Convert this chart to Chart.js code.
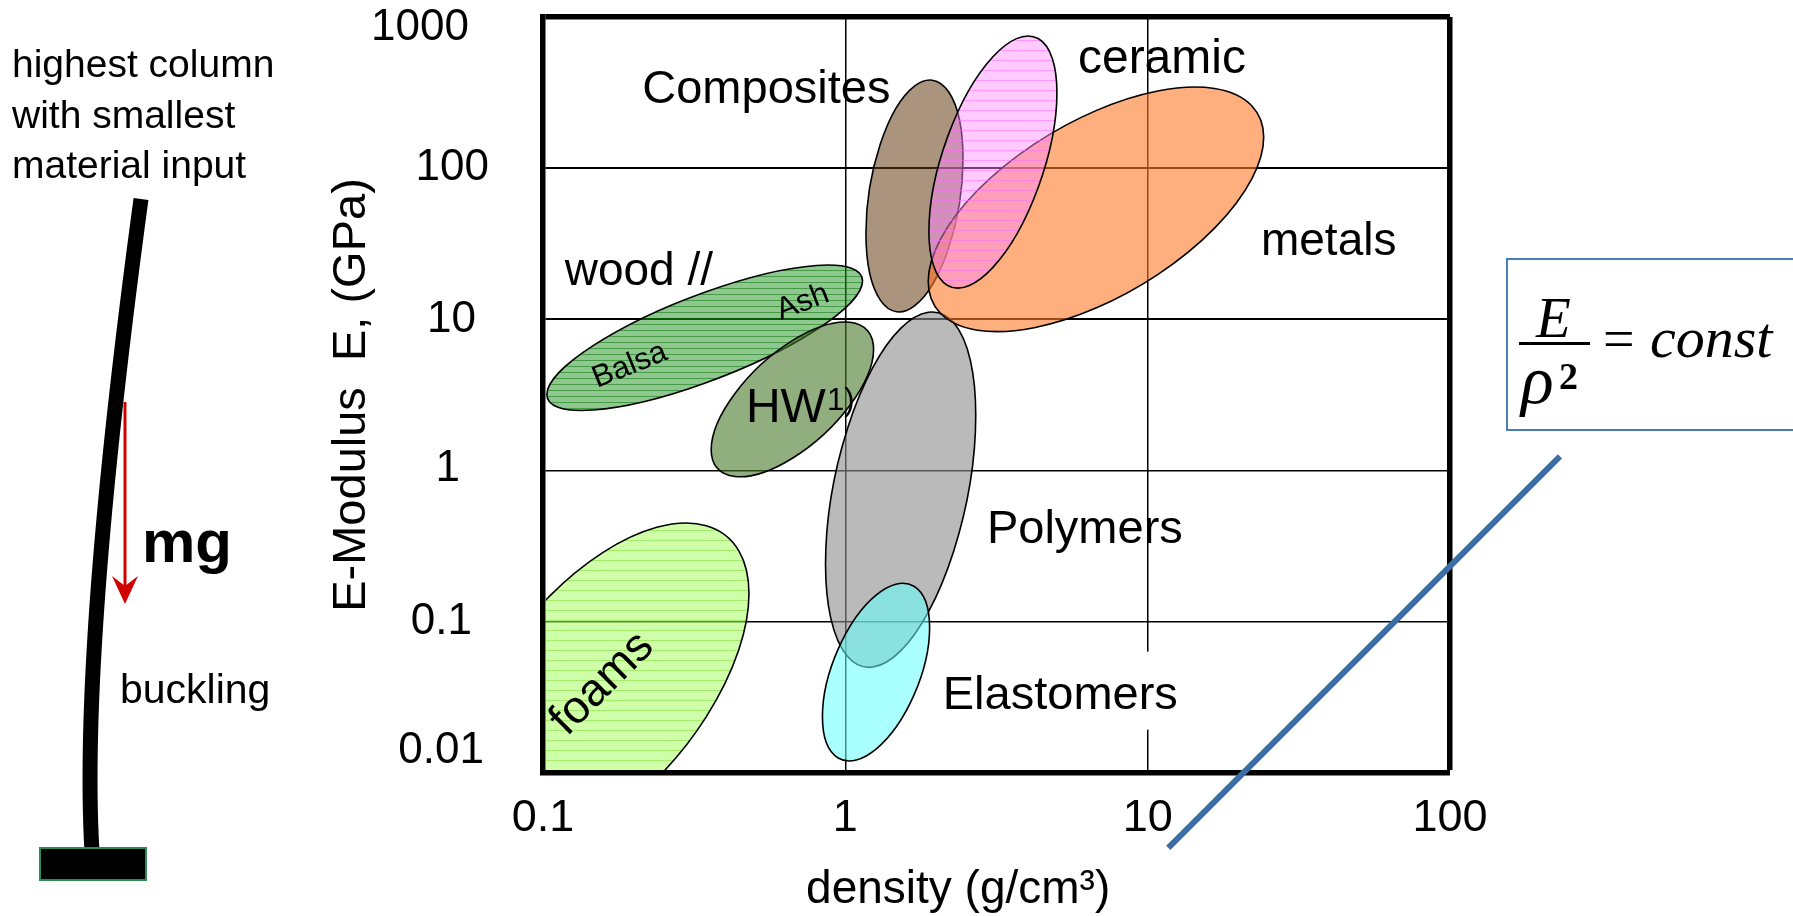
<!DOCTYPE html>
<html>
<head>
<meta charset="utf-8">
<script src="https://cdn.jsdelivr.net/npm/chart.js@4.4.0/dist/chart.umd.min.js"></script>
<style>
  html, body { margin: 0; padding: 0; background: #fff; }
  canvas { display: block; }
</style>
</head>
<body>
<canvas id="ashby" width="1793" height="916"></canvas>
<script>
// material classes: density (g/cm3) and E-modulus (GPa) ranges
var materials  = ['foams', 'wood //', 'HW', 'Polymers', 'Elastomers', 'Composites', 'metals', 'ceramic'];
var densityMin = [0.052, 0.103, 0.36, 0.86, 0.84, 1.17, 1.88, 1.89];
var densityMax = [0.48, 1.14, 1.24, 2.70, 1.90, 2.45, 24.2, 5.01];
var modulusMin = [0.003, 2.5, 0.91, 0.05, 0.012, 11.2, 8.3, 16.1];
var modulusMax = [0.45, 22.9, 9.6, 11.2, 0.18, 383, 344, 749];
var tilt       = [0.57, 0.78, 0.65, 0.42, 0.5, 0.32, 0.59, 0.55];

var xTicks = [0.1, 1, 10, 100];
var xTickLabels = ['0.1', '1', '10', '100'];
var yTicks = [0.01, 0.1, 1, 10, 100, 1000];
var yTickLabels = ['0.01', '0.1', '1', '10', '100', '1000'];

// guide line E / rho^2 = const
var guideDensity = [11.7, 231];
var guideModulus = [0.0032, 1.24];

var fills = ['rgba(170,255,100,0.55)', 'rgba(40,150,40,0.52)', 'rgba(70,120,40,0.6)', 'rgba(140,140,140,0.6)',
             'rgba(100,255,255,0.55)', 'rgba(100,60,20,0.55)', 'rgba(255,120,40,0.6)', 'rgba(255,140,255,0.45)'];
var hatch = ['rgba(120,220,50,0.5)', 'rgba(0,110,0,0.5)', null, null, null, null, null, 'rgba(255,110,255,0.55)'];
var hatchGap = [10, 6, 0, 0, 0, 0, 0, 10];

// labels placed at (density, modulus)
var notes = [
  {text: 'Composites', x: 0.213, y: 270, size: 47},
  {text: 'ceramic', x: 5.88, y: 427, size: 48},
  {text: 'metals', x: 23.7, y: 26.7, size: 46},
  {text: 'wood //', x: 0.118, y: 16.9, size: 46},
  {text: 'Ash', x: 0.612, y: 9.9, size: 31, rot: -21},
  {text: 'Balsa', x: 0.151, y: 3.52, size: 31, rot: -22},
  {text: 'HW', sup: '1)', x: 0.469, y: 2.1, size: 48},
  {text: 'Polymers', x: 2.94, y: 0.332, size: 47},
  {text: 'Elastomers', x: 2.10, y: 0.0265, size: 47, box: true},
  {text: 'foams', x: 0.120, y: 0.0173, size: 46, rot: -45}
];

var SANS = "'Liberation Sans', Arial, sans-serif";
var SERIF = "'Liberation Serif', 'Times New Roman', serif";
Chart.defaults.font.family = SANS;
Chart.defaults.color = '#000';

function hatchPattern(ctx, color, gap) {
  var c = document.createElement('canvas');
  c.width = 8; c.height = gap;
  var g = c.getContext('2d');
  g.fillStyle = color;
  g.fillRect(0, 0, 8, 1);
  return ctx.createPattern(c, 'repeat');
}

function ellipsePath(ctx, xs, ys, i) {
  var x0 = xs.getPixelForValue(densityMin[i]), x1 = xs.getPixelForValue(densityMax[i]);
  var y0 = ys.getPixelForValue(modulusMin[i]), y1 = ys.getPixelForValue(modulusMax[i]);
  var cx = (x0 + x1) / 2, cy = (y0 + y1) / 2, hx = (x1 - x0) / 2, hy = (y0 - y1) / 2;
  var r = tilt[i], s = Math.sqrt(1 - r * r);
  ctx.save();
  ctx.beginPath();
  ctx.transform(hx, -hy * r, 0, -hy * s, cx, cy);
  ctx.arc(0, 0, 1, 0, Math.PI * 2);
  ctx.restore();
}

// y labels sit a little unevenly in the original
var yLabelRight = [484, 472, 460, 476, 489, 469];
var yLabelShift = [-22, 0, -2, 0, 0, 11];

var regions = {
  id: 'regions',
  beforeDatasetsDraw: function(chart) {
    var ctx = chart.ctx, a = chart.chartArea, xs = chart.scales.x, ys = chart.scales.y;
    ctx.save();
    ctx.beginPath();
    ctx.rect(a.left + 3, a.top + 3, a.right - a.left - 6, a.bottom - a.top - 6);
    ctx.clip();
    materials.forEach(function(m, i) {
      ellipsePath(ctx, xs, ys, i);
      ctx.fillStyle = fills[i];
      ctx.fill();
      if (hatch[i]) {
        ctx.fillStyle = hatchPattern(ctx, hatch[i], hatchGap[i]);
        ctx.fill();
      }
      ctx.lineWidth = 1.6;
      ctx.strokeStyle = '#000';
      ctx.stroke();
    });
    ctx.restore();

    notes.forEach(function(n) {
      var px = xs.getPixelForValue(n.x), py = ys.getPixelForValue(n.y);
      ctx.save();
      ctx.translate(px, py);
      if (n.rot) ctx.rotate(n.rot * Math.PI / 180);
      ctx.font = n.size + 'px ' + SANS;
      ctx.textAlign = 'left';
      ctx.textBaseline = 'alphabetic';
      var w = ctx.measureText(n.text).width;
      if (n.box) {
        ctx.fillStyle = '#fff';
        ctx.fillRect(-8, -n.size * 1.22, w + 16, n.size * 1.66);
      }
      ctx.fillStyle = '#000';
      ctx.fillText(n.text, 0, 0);
      if (n.sup) {
        ctx.font = Math.round(n.size * 0.64) + 'px ' + SANS;
        ctx.fillText(n.sup, w + 1, -12);
      }
      ctx.restore();
    });
  },
  afterDraw: function(chart) {
    var ctx = chart.ctx, ys = chart.scales.y;
    ctx.save();
    ctx.fillStyle = '#000';

    // y tick labels from the axis positions
    ctx.font = '44px ' + SANS;
    ctx.textAlign = 'right';
    ctx.textBaseline = 'middle';
    yTicks.forEach(function(v, i) {
      ctx.fillText(yTickLabels[i], yLabelRight[i], ys.getPixelForValue(v) + yLabelShift[i]);
    });

    ctx.textAlign = 'left';
    ctx.textBaseline = 'alphabetic';
    ctx.font = '39px ' + SANS;
    ctx.fillText('highest column', 12, 77);
    ctx.fillText('with smallest', 12, 128);
    ctx.fillText('material input', 12, 178);

    // bent column
    ctx.beginPath();
    ctx.moveTo(141, 199);
    ctx.quadraticCurveTo(80, 650, 92, 852);
    ctx.lineWidth = 15;
    ctx.strokeStyle = '#000';
    ctx.stroke();
    ctx.fillRect(40, 848, 106, 32);
    ctx.lineWidth = 2;
    ctx.strokeStyle = '#2e8b57';
    ctx.strokeRect(40, 848, 106, 32);

    // weight arrow
    ctx.beginPath();
    ctx.moveTo(125, 402);
    ctx.lineTo(125, 588);
    ctx.lineWidth = 3;
    ctx.strokeStyle = '#d00000';
    ctx.stroke();
    ctx.beginPath();
    ctx.moveTo(125, 604);
    ctx.lineTo(112, 576);
    ctx.lineTo(125, 586);
    ctx.lineTo(138, 576);
    ctx.closePath();
    ctx.fillStyle = '#d00000';
    ctx.fill();

    ctx.fillStyle = '#000';
    ctx.font = 'bold 60px ' + SANS;
    ctx.fillText('mg', 142, 562);
    ctx.font = '41px ' + SANS;
    ctx.fillText('buckling', 120, 703);

    // formula box
    ctx.lineWidth = 2;
    ctx.strokeStyle = '#4a7ebb';
    ctx.strokeRect(1507, 259, 320, 171);
    ctx.fillStyle = '#000';
    ctx.font = 'italic 57px ' + SERIF;
    ctx.fillText('E', 1536, 337);
    ctx.fillRect(1519, 342, 71, 3);
    ctx.font = 'italic 68px ' + SERIF;
    ctx.fillText('\u03C1', 1521, 403);
    ctx.font = 'bold 38px ' + SERIF;
    ctx.fillText('2', 1559, 389);
    ctx.font = '56px ' + SERIF;
    ctx.fillText('=', 1603, 358);
    ctx.font = 'italic 58px ' + SERIF;
    ctx.fillText('const', 1650, 357);
    ctx.restore();
  }
};

new Chart(document.getElementById('ashby'), {
  type: 'scatter',
  data: {
    datasets: [{
      label: 'E/\u03C1\u00B2 = const',
      data: guideDensity.map(function(d, i) { return {x: d, y: guideModulus[i]}; }),
      showLine: true,
      borderColor: '#3a6ea5',
      borderWidth: 6,
      borderCapStyle: 'butt',
      pointRadius: 0,
      clip: false
    }]
  },
  options: {
    responsive: false,
    animation: false,
    layout: { padding: { left: 300, top: 17, right: 343, bottom: 0 } },
    plugins: { legend: { display: false }, tooltip: { enabled: false } },
    scales: {
      x: {
        type: 'logarithmic',
        min: 0.1,
        max: 100,
        afterBuildTicks: function(s) { s.ticks = xTicks.map(function(v) { return {value: v}; }); },
        afterFit: function(s) { s.height = 143; s.paddingLeft = 0; s.paddingRight = 0; },
        ticks: {
          callback: function(v, i) { return xTickLabels[i]; },
          font: { size: 45 },
          padding: 19,
          maxRotation: 0,
          autoSkip: false
        },
        grid: {
          color: '#000',
          drawTicks: false,
          lineWidth: function(c) {
            var v = c.tick && c.tick.value;
            if (v === 100) return 5.5;
            if (v === 0.1) return 0;
            return 1.5;
          }
        },
        border: { display: true, color: '#000', width: 5.5 },
        title: {
          display: true,
          text: 'density (g/cm\u00B3)      ',
          font: { size: 46, lineHeight: 1.1 },
          padding: 0
        }
      },
      y: {
        type: 'logarithmic',
        min: 0.01,
        max: 1000,
        afterBuildTicks: function(s) { s.ticks = yTicks.map(function(v) { return {value: v}; }); },
        afterFit: function(s) { s.width = 243; s.paddingTop = 0; s.paddingBottom = 0; },
        ticks: { display: false },
        grid: {
          color: '#000',
          drawTicks: false,
          lineWidth: function(c) {
            var v = c.tick && c.tick.value;
            if (v === 1000) return 5.5;
            if (v === 0.01) return 0;
            if (v === 100 || v === 10) return 2;
            return 1.4;
          }
        },
        border: { display: true, color: '#000', width: 5.5 },
        title: {
          display: true,
          text: 'E-Modulus  E, (GPa)',
          font: { size: 47 },
          padding: { top: 24, bottom: 0 }
        }
      }
    }
  },
  plugins: [regions]
});
</script>
</body>
</html>
